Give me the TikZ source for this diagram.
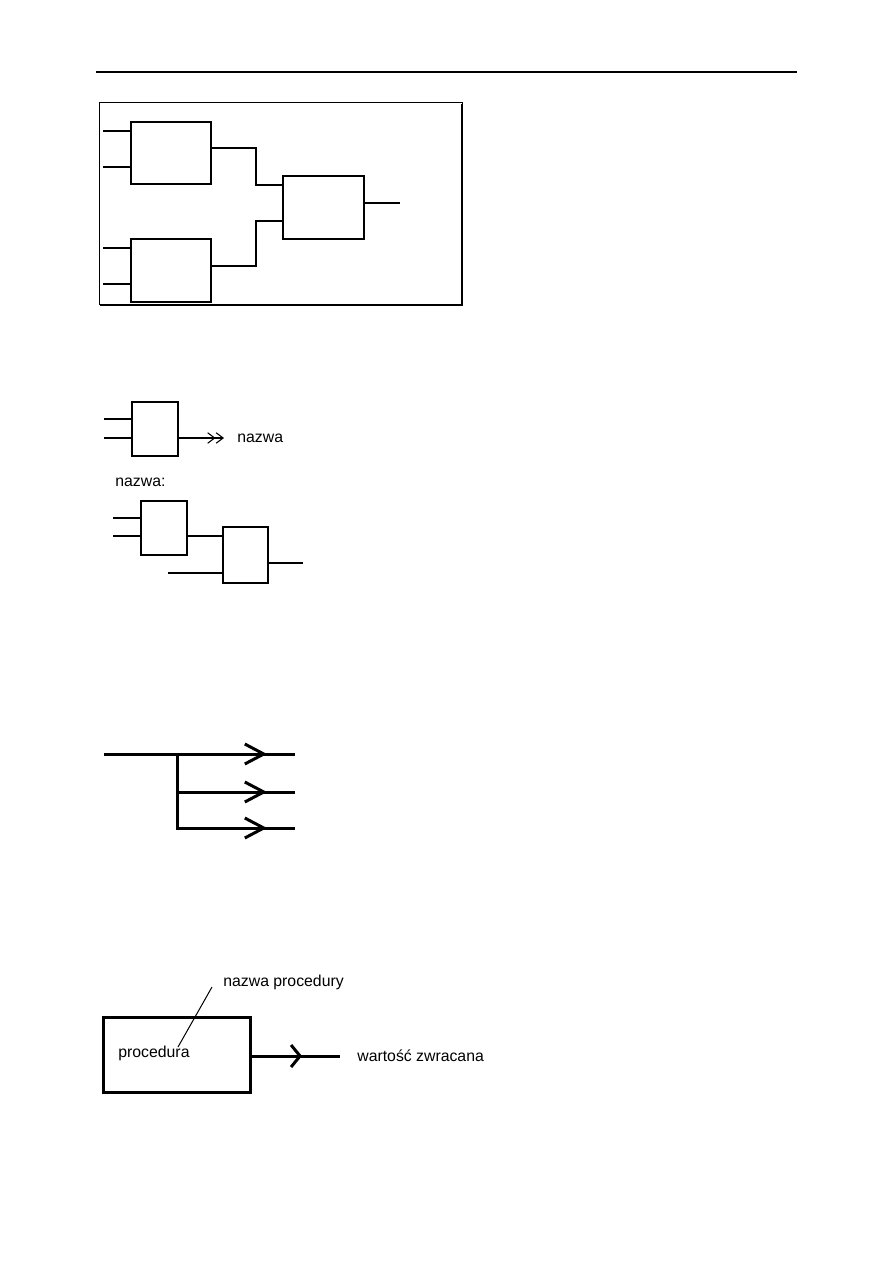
\documentclass[tikz,border=0pt]{standalone}
\usepackage{fontspec}
\setmainfont{Liberation Sans}
\usetikzlibrary{positioning,arrows.meta,calc}

\begin{document}
\begin{tikzpicture}[x=0.02cm, y=-0.02cm,
        wire/.style={line width=0.045cm},
        gruby/.style={line width=0.06cm},
        cienki/.style={line width=0.02cm},
        blok/.style={draw, line width=0.045cm, inner sep=0pt},
        gblok/.style={blok, line width=0.06cm},
        etykieta/.style={font=\fontsize{9}{11}\selectfont, anchor=west, inner sep=0pt},
        podwojna/.style={wire, -{Straight Barb[length=4pt,width=6pt,line width=0.6pt] Straight Barb[length=4pt,width=6pt,line width=0.6pt]}},
        grot/.style={gruby, -{Straight Barb[length=0.38cm,width=0.4cm,line width=0.06cm]}},
        grotp/.style={gruby, -{Straight Barb[length=0.18cm,width=0.44cm,line width=0.06cm]}}]
      \useasboundingbox (0,0) rectangle (893,1263);
      \draw[line width=0.8pt] (96,72) -- (797,72);
      % ramka z cieniem
      \draw[cienki] (99,103) rectangle (462,305);
      \draw[wire] (462,104) -- (462,305) -- (100,305);
      \node[blok, minimum width=1.6cm, minimum height=1.24cm] (A) at (171,153) {};
      \node[blok, minimum width=1.6cm, minimum height=1.26cm] (B) at (171,270.5) {};
      \node[blok, minimum width=1.62cm, minimum height=1.26cm] (C) at (323.5,207.5) {};
      \foreach \y [count=\i] in {131,167}{
        \coordinate (a\i) at (103,\y);
        \draw[wire] (a\i) -- (a\i -| A.west);
      }
      \foreach \y [count=\i] in {248,284}{
        \coordinate (b\i) at (103,\y);
        \draw[wire] (b\i) -- (b\i -| B.west);
      }
      \coordinate (k1) at (256,185);
      \coordinate (k2) at (256,221);
      \coordinate (c0) at (400,203);
      \draw[wire] (A.east |- 0,148) -| (k1) -- (k1 -| C.west);
      \draw[wire] (B.east |- 0,266) -| (k2) -- (k2 -| C.west);
      \draw[wire] (c0 -| C.east) -- (c0);
      % nazwa
      \node[blok, minimum width=0.92cm, minimum height=1.08cm] (D) at (155,429) {};
      \foreach \y [count=\i] in {419,438}{
        \coordinate (d\i) at (104,\y);
        \draw[wire] (d\i) -- (d\i -| D.west);
      }
      \coordinate (d0) at (224,438);
      \draw[podwojna] (d0 -| D.east) -- (d0);
      \node[etykieta] (nazwa) at (237,438) {nazwa};
      \node[etykieta] (nazwadef) at (115,482) {nazwa:};
      \node[blok, minimum width=0.92cm, minimum height=1.08cm] (E) at (164,528) {};
      \node[blok, minimum width=0.9cm, minimum height=1.12cm] (F) at (245.5,555) {};
      \foreach \y [count=\i] in {518,536}{
        \coordinate (e\i) at (113,\y);
        \draw[wire] (e\i) -- (e\i -| E.west);
      }
      \coordinate (f1) at (168,573);
      \coordinate (f0) at (303,563);
      \draw[wire] (E.east |- 0,536) -- (F.west |- 0,536);
      \draw[wire] (f1) -- (f1 -| F.west);
      \draw[wire] (f0 -| F.east) -- (f0);
      % rozgalezienie
      \coordinate (r0) at (104,754);
      \coordinate (j) at (177,754);
      \foreach \y [count=\i] in {754,792,828}{
        \coordinate (m\i) at (267,\y);
        \coordinate (r\i) at (295,\y);
      }
      \draw[gruby] (r0) -- (r1);
      \draw[gruby] (j) |- (r2);
      \draw[gruby] (j) |- (r3);
      \foreach \i in {1,2,3}
        \draw[grot] (m\i -| j) -- (m\i);
      % procedura
      \node[gblok, minimum width=2.96cm, minimum height=1.5cm] (P) at (177,1054.5) {};
      \node[etykieta] (proc) at (118,1053) {procedura};
      \node[etykieta] (pnazwa) at (223,982) {nazwa procedury};
      \node[etykieta] (wynik) at (357,1056) {wartość zwracana};
      \coordinate (l1) at (178,1047);
      \coordinate (l2) at (212,987);
      \draw[cienki] (l1) -- (l2);
      \coordinate (p1) at (302,1056);
      \coordinate (p2) at (340,1056);
      \draw[gruby] (p2 -| P.east) -- (p2);
      \draw[grotp] (p1 -| P.east) -- (p1);
    \end{tikzpicture}
\end{document}
